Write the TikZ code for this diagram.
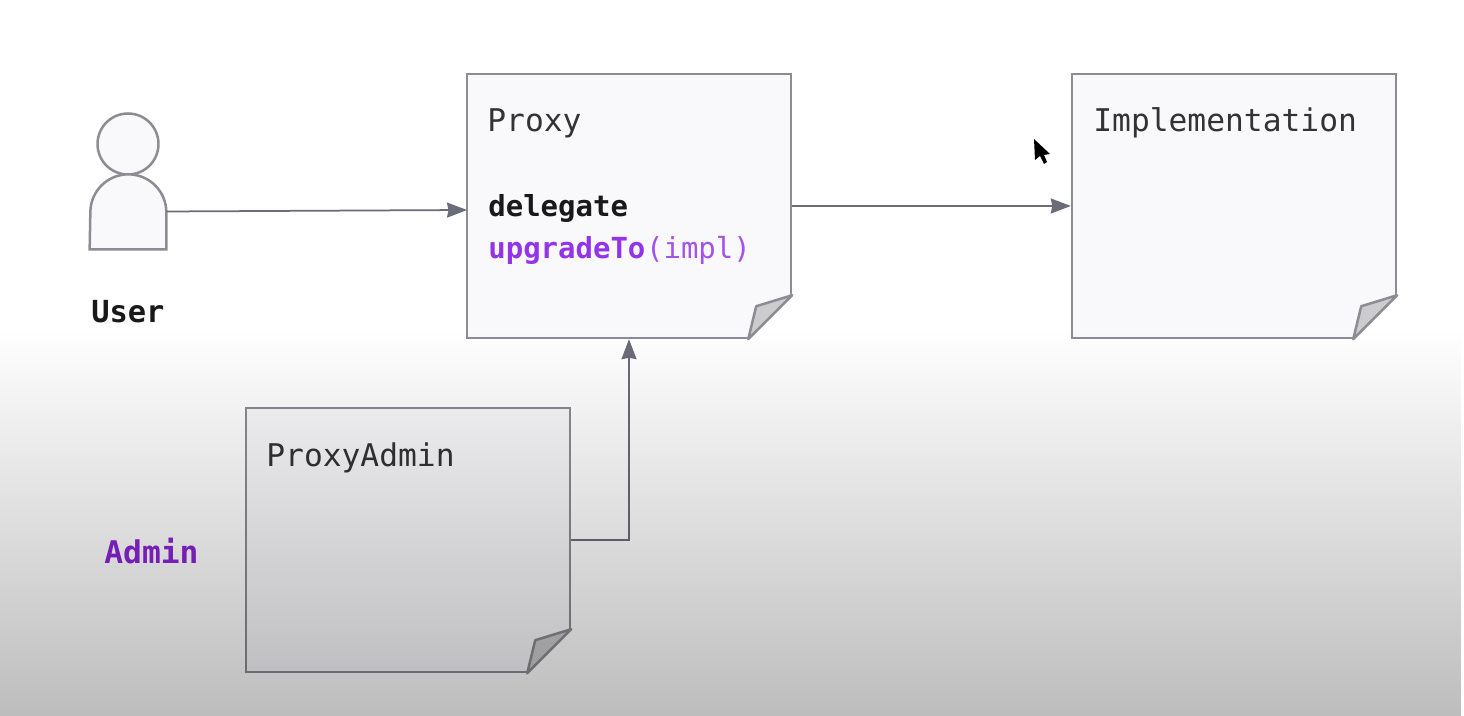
\documentclass[tikz,border=0pt]{standalone}
\usepackage{fontspec}
\setmainfont{DejaVu Sans Mono}
\usetikzlibrary{arrows.meta,fadings}

\definecolor{noteline}{HTML}{8C8C94}
\definecolor{notefill}{HTML}{F9F9FC}
\definecolor{foldfill}{HTML}{CCCCCE}
\definecolor{arrowline}{HTML}{6C6C78}
\definecolor{fnpurple}{HTML}{9333EA}
\definecolor{adminpurple}{HTML}{8B24D6}

\tikzset{
  notebox/.style={draw=noteline,fill=notefill,line width=0.05cm,minimum width=6.48cm,minimum height=5.28cm},
  notetext/.style={anchor=base west,inner sep=0pt,font=\fontsize{17.8}{20}\selectfont,text=black!80},
  codetext/.style={notetext,font=\fontsize{16.5}{20}\selectfont\bfseries,text=black!90},
  conn/.style={draw=arrowline,line width=0.035cm,->,>={Stealth[length=0.4cm,width=0.3cm,inset=0.03cm]}},
}

\tikzfading[name=fadedown,top color=transparent!100,bottom color=transparent!74]

% dog-ear at the lower right of a note
\newcommand{\notefold}[1]{%
  \fill[white,draw=white,line width=0.05cm] (#1.south east) ++(-44,0) -- ++(44,44) -- ++(0,-44) -- cycle;
  \draw[draw=noteline,fill=foldfill,line width=0.05cm,line join=round] (#1.south east) ++(-44,0) -- ++(8,33) -- ++(36,11) -- cycle;
}

\begin{document}
\begin{tikzpicture}[x=0.02cm,y=0.02cm]
  \useasboundingbox (0,0) rectangle (1464,716);
  \fill[white] (0,0) rectangle (1464,716);

  \node[notebox] (proxy) at (629,510) {}; %Proxy
  \node[notebox] (impl) at (1234,510) {}; %Implementation
  \node[notebox] (admin) at (408,176) {}; %ProxyAdmin
  \foreach \P in {proxy,impl,admin} {\notefold{\P}}

  \node[notetext] (proxylabel) at (487,584) {Proxy};
  \node[codetext] (delegatelabel) at (488,499) {delegate};
  \node[codetext,text=fnpurple] (upgradelabel) at (488,457) {upgradeTo};
  \node[notetext,text=fnpurple!85,font=\fontsize{16.5}{20}\selectfont,anchor=base west] (impllabel) at (upgradelabel.base east) {(impl)};
  \node[notetext] (implementationlabel) at (1093,584) {Implementation};
  \node[notetext] (adminlabel) at (266,249) {ProxyAdmin};
  \node[codetext,text=adminpurple,font=\fontsize{17.8}{20}\selectfont\bfseries] (adminrole) at (104,152) {Admin};
  \node[codetext,font=\fontsize{17.3}{20}\selectfont\bfseries] (userlabel) at (91,393) {User};

  % person
  \node[circle,draw=noteline,fill=notefill,line width=0.05cm,minimum size=1.22cm,inner sep=0pt] (userhead) at (128,572) {};
  \node[minimum width=1.52cm,minimum height=1.5cm,inner sep=0pt] (user) at (128,504.5) {};
  \draw[draw=noteline,fill=notefill,line width=0.05cm] (user.south west) -- (user.south east) -- ++(0,37) arc (0:180:0.76cm) -- cycle;

  \coordinate (proxyin) at (467,506);
  \draw[conn] (user.east) -- (proxyin);
  \draw[conn] (proxy.east) -- (impl.west);
  \draw[conn] (admin.east) -| (proxy.south);

  \fill[black] (1034,577) -- (1035,556) -- (1040,560) -- (1044,552) -- (1047,554) -- (1044,561) -- (1050,562) -- cycle; %cursor

  \fill[black,path fading=fadedown] (0,0) rectangle (1464,386);
\end{tikzpicture}
\end{document}
